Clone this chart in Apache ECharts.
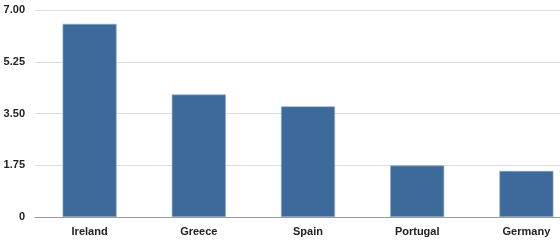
<!DOCTYPE html>
<html>
<head>
<meta charset="utf-8">
<script src="https://cdn.jsdelivr.net/npm/echarts@6/dist/echarts.min.js"></script>
<style>
html,body{margin:0;padding:0;background:#fff;overflow:hidden;}
#wrap{width:560px;height:243px;overflow:hidden;}
#chart{width:581px;height:243px;}
</style>
</head>
<body>
<div id="wrap"><div id="chart"></div></div>
<script>
const categories = ['Ireland', 'Greece', 'Spain', 'Portugal', 'Germany'];
const values = [6.53, 4.14, 3.74, 1.74, 1.56];
const yTicks = [0, 1.75, 3.5, 5.25, 7];

const chart = echarts.init(document.getElementById('chart'), null, {renderer: 'canvas'});
chart.setOption({
  animation: false,
  backgroundColor: '#ffffff',
  grid: {left: 35, top: 10, right: 0, bottom: 26, containLabel: false},
  xAxis: {
    type: 'category',
    data: categories,
    axisLine: {lineStyle: {color: '#9a9a9a', width: 1}},
    axisTick: {show: false},
    axisLabel: {
      color: '#222', fontWeight: 'bold', fontSize: 11,
      fontFamily: 'Liberation Sans, Arial, sans-serif', margin: 9
    }
  },
  yAxis: {
    type: 'value',
    min: 0, max: 7, interval: 1.75,
    axisLine: {show: false},
    axisTick: {show: false},
    splitLine: {lineStyle: {color: '#dddddd', width: 1}},
    axisLabel: {
      color: '#222', fontWeight: 'bold', fontSize: 11,
      fontFamily: 'Liberation Sans, Arial, sans-serif', margin: 10,
      formatter: function (v) {
        if (v === 0) return '0';
        return v.toFixed(2);
      }
    }
  },
  series: [{
    type: 'bar',
    data: values,
    barWidth: 54,
    itemStyle: {color: '#3d6a9b', borderColor: '#8fb0d0', borderWidth: 0.6}
  }]
});
</script>
</body>
</html>
